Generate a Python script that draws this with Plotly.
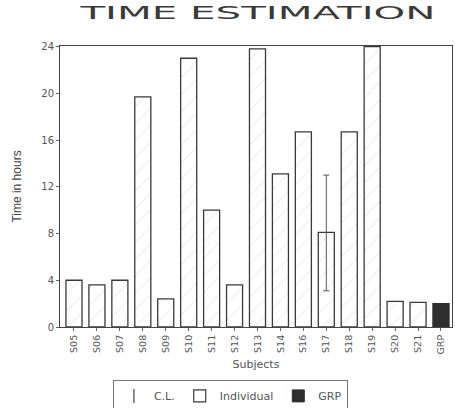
import plotly.graph_objects as go

subjects = ["S05", "S06", "S07", "S08", "S09", "S10", "S11", "S12", "S13", "S14",
            "S16", "S17", "S18", "S19", "S20", "S21"]
individual_hours = [4.0, 3.6, 4.0, 19.7, 2.4, 23.0, 10.0, 3.6, 23.8, 13.1,
                    16.7, 8.1, 16.7, 24.0, 2.2, 2.1]
group_label = ["GRP"]
group_hours = [2.0]
cl_subject = ["S17"]
cl_value = [8.1]
cl_upper = [13.0]
cl_lower = [3.1]
y_ticks = [0, 4, 8, 12, 16, 20, 24]

categories = subjects + group_label

fig = go.Figure()

fig.add_trace(go.Bar(
    x=subjects, y=individual_hours, name="Individual",
    marker=dict(color="white", line=dict(color="#3a3a3a", width=1.3),
                pattern=dict(shape="/", fgcolor="#c8c8c8", bgcolor="white", size=12, solidity=0.08)),
    showlegend=False,
))
fig.add_trace(go.Bar(
    x=group_label, y=group_hours, name="GRP",
    marker=dict(color="#2e2e2e", line=dict(color="#2e2e2e", width=1.3)),
    showlegend=False,
))
fig.add_trace(go.Scatter(
    x=cl_subject, y=cl_value, mode="markers",
    marker=dict(size=0.1, color="rgba(0,0,0,0)"),
    error_y=dict(type="data", symmetric=False,
                 array=[u - v for u, v in zip(cl_upper, cl_value)],
                 arrayminus=[v - l for l, v in zip(cl_lower, cl_value)],
                 color="#555", thickness=1, width=3),
    showlegend=False, hoverinfo="skip",
))
# legend entries
fig.add_trace(go.Scatter(x=[None], y=[None], mode="markers", name="C.L.",
                         marker=dict(symbol="line-ns-open", size=10, color="#444",
                                     line=dict(width=1.2, color="#444"))))
fig.add_trace(go.Bar(x=[None], y=[None], name="Individual",
                     marker=dict(color="white", line=dict(color="#3a3a3a", width=1.2))))
fig.add_trace(go.Bar(x=[None], y=[None], name="GRP",
                     marker=dict(color="#2e2e2e", line=dict(color="#2e2e2e", width=1))))

fig.update_layout(
    width=455, height=408,
    margin=dict(l=60, r=3, t=46, b=81, autoexpand=False),
    paper_bgcolor="white", plot_bgcolor="white",
    barmode="overlay", bargap=0.3,
    title=dict(text="TIME ESTIMATION", x=0.567, xanchor="center", y=0.969, yanchor="middle",
               font=dict(family="DejaVu Sans", size=17, color="#3a3a3a")),
    font=dict(family="DejaVu Sans", color="#555"),
    legend=dict(orientation="h", x=0.135, y=-0.19, xanchor="left", yanchor="top",
                bordercolor="#777", borderwidth=1, font=dict(size=11, color="#555"),
                itemwidth=30, tracegroupgap=0, bgcolor="white"),
    showlegend=True,
)
fig.update_xaxes(
    categoryorder="array", categoryarray=categories, range=[-0.61, 16.48],
    tickangle=-90, tickfont=dict(size=9.5, color="#555"),
    showline=True, linecolor="#444", linewidth=1, mirror=True,
    ticks="outside", ticklen=3, tickcolor="#666",
    title=dict(text="Subjects", font=dict(size=11, color="#555"), standoff=6),
    showgrid=False, automargin=False,
)
fig.update_yaxes(
    range=[0, 24.05], tickvals=y_ticks, tickfont=dict(size=10, color="#555"),
    showline=True, linecolor="#444", linewidth=1, mirror=True,
    ticks="outside", ticklen=3, tickcolor="#666",
    title=dict(text="Time in hours", font=dict(family="Liberation Sans Narrow, Liberation Sans", size=12, color="#444"), standoff=17),
    showgrid=False, zeroline=False, automargin=False,
)

post = """
document.body.style.margin = '0';
var t = document.querySelector('.gtitle');
if (t) { t.setAttribute('textLength', '355'); t.setAttribute('lengthAdjust', 'spacingAndGlyphs'); }
"""
fig.write_html("out.html", post_script=post, config={"displayModeBar": False})
